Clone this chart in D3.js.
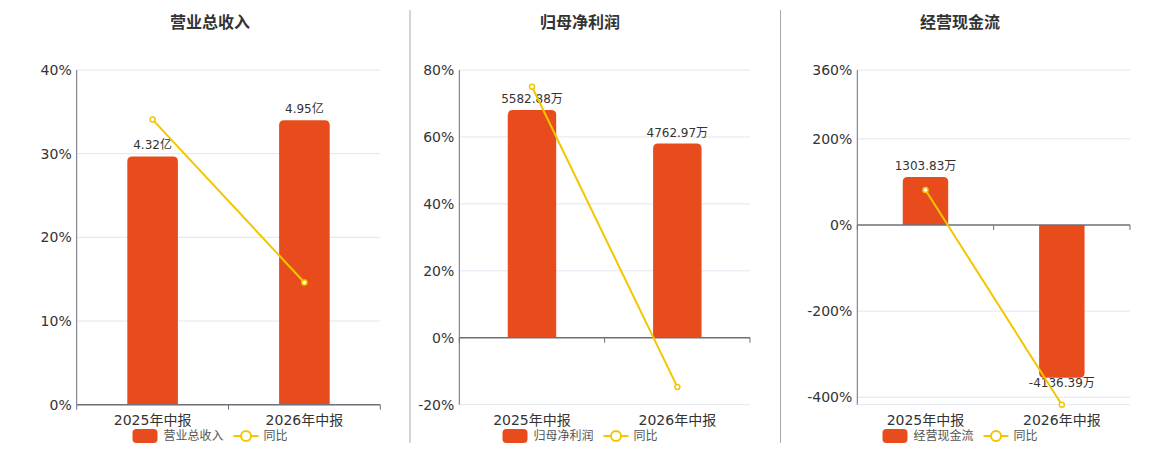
<!DOCTYPE html>
<html>
<head>
<meta charset="utf-8">
<script src="https://cdn.jsdelivr.net/npm/d3@7"></script>
<style>
  body { margin: 0; background: #fff; }
  svg { display: block; font-family: "DejaVu Sans", "Noto Sans CJK SC", sans-serif; }
</style>
</head>
<body>
<div id="viz"></div>
<script>
// data
var categories = ["2025年中报", "2026年中报"];

var revenue = [4.32, 4.95];           // 亿
var revenueYoy = [34.07, 14.6];       // %
var profit = [5582.88, 4762.97];      // 万
var profitYoy = [75.0, -14.69];
var cash = [1303.83, -4136.39];       // 万
var cashYoy = [81.3, -417.25];

var titles = ["营业总收入", "归母净利润", "经营现金流"];
var yoyName = "同比";

var revenueTicks = [0, 10, 20, 30, 40];
var profitTicks = [-20, 0, 20, 40, 60, 80];
var cashTicks = [-400, -200, 0, 200, 360];

var barColor = "#e84c1d";
var lineColor = "#f3c600";
var gridColor = "#e0e6f1";
var axisColor = "#6e7079";

var svg = d3.select("#viz")
    .append("svg")
    .attr("width", 1160)
    .attr("height", 450);

var panels = [
    {title: titles[0], bars: revenue, yoy: revenueYoy, unit: "亿", ticks: revenueTicks,
     grid: [10, 20, 30, 40], pct: [0, 40], barDom: [0, 5.823],
     x0: 76.7, x1: 380.3, cx: 210},
    {title: titles[1], bars: profit, yoy: profitYoy, unit: "万", ticks: profitTicks,
     grid: [-20, 20, 40, 60, 80], pct: [-20, 80], barDom: [-1640, 6566],
     x0: 459.3, x1: 750, cx: 580},
    {title: titles[2], bars: cash, yoy: cashYoy, unit: "万", ticks: cashTicks,
     grid: [-417.25, -400, -200, 200, 360], pct: [-417.25, 360], barDom: [-4864, 4200],
     x0: 857.3, x1: 1130, cx: 960}
];

var plotTop = 70, plotBottom = 404.7;

// separators
[410, 780.5].forEach(function (x) {
    svg.append("line")
        .attr("x1", x).attr("x2", x)
        .attr("y1", 10).attr("y2", 443)
        .attr("stroke", "#aaa")
        .attr("stroke-width", 1);
});

function barPath(x, w, y0, y1, r) {
    // rounded corners on the far end of the bar
    var h = Math.abs(y1 - y0);
    r = Math.min(r, h, w / 2);
    if (y1 < y0) {
        return "M" + x + "," + y0 + "V" + (y1 + r) +
            "Q" + x + "," + y1 + " " + (x + r) + "," + y1 +
            "H" + (x + w - r) +
            "Q" + (x + w) + "," + y1 + " " + (x + w) + "," + (y1 + r) +
            "V" + y0 + "Z";
    }
    return "M" + x + "," + y0 + "V" + (y1 - r) +
        "Q" + x + "," + y1 + " " + (x + r) + "," + y1 +
        "H" + (x + w - r) +
        "Q" + (x + w) + "," + y1 + " " + (x + w) + "," + (y1 - r) +
        "V" + y0 + "Z";
}

panels.forEach(function (p) {
    var g = svg.append("g");

    var x = d3.scaleBand().domain(categories).range([p.x0, p.x1]).padding(0);
    var y = d3.scaleLinear().domain(p.pct).range([plotBottom, plotTop]);
    var yb = d3.scaleLinear().domain(p.barDom).range([plotBottom, plotTop]);
    var bw = x.bandwidth() / 3;

    g.append("text")
        .attr("x", p.cx).attr("y", 28)
        .attr("text-anchor", "middle")
        .attr("font-size", 16).attr("font-weight", "bold")
        .attr("fill", "#333")
        .text(p.title);

    // grid
    g.selectAll(".grid")
        .data(p.grid)
        .enter().append("line")
        .attr("x1", p.x0).attr("x2", p.x1)
        .attr("y1", function (d) { return y(d); })
        .attr("y2", function (d) { return y(d); })
        .attr("stroke", gridColor);

    // y axis labels
    g.selectAll(".ylab")
        .data(p.ticks)
        .enter().append("text")
        .attr("x", p.x0 - 5)
        .attr("y", function (d) { return y(d); })
        .attr("dy", "0.36em")
        .attr("text-anchor", "end")
        .attr("font-size", 14)
        .attr("fill", "#333")
        .text(function (d) { return d + "%"; });

    g.append("line")
        .attr("x1", p.x0).attr("x2", p.x0)
        .attr("y1", plotTop).attr("y2", plotBottom)
        .attr("stroke", axisColor);

    // bars
    var zero = yb(0);
    g.selectAll(".bar")
        .data(p.bars)
        .enter().append("path")
        .attr("d", function (d, i) {
            var cx = x(categories[i]) + x.bandwidth() / 2;
            return barPath(cx - bw / 2, bw, zero, yb(d), 5);
        })
        .attr("fill", barColor);

    // x axis at zero
    var y0 = y(0);
    g.append("line")
        .attr("x1", p.x0).attr("x2", p.x1)
        .attr("y1", y0).attr("y2", y0)
        .attr("stroke", axisColor).attr("stroke-width", 1.5);
    g.selectAll(".tick")
        .data([p.x0, p.x0 + x.step(), p.x1])
        .enter().append("line")
        .attr("x1", function (d) { return d; })
        .attr("x2", function (d) { return d; })
        .attr("y1", y0).attr("y2", y0 + 5)
        .attr("stroke", axisColor);

    g.selectAll(".xlab")
        .data(categories)
        .enter().append("text")
        .attr("x", function (d) { return x(d) + x.bandwidth() / 2; })
        .attr("y", 425)
        .attr("text-anchor", "middle")
        .attr("font-size", 14)
        .attr("fill", "#333")
        .text(function (d) { return d; });

    // bar labels
    g.selectAll(".blab")
        .data(p.bars)
        .enter().append("text")
        .attr("x", function (d, i) { return x(categories[i]) + x.bandwidth() / 2; })
        .attr("y", function (d) { return d >= 0 ? yb(d) - 7 : yb(d) + 9; })
        .attr("text-anchor", "middle")
        .attr("font-size", 12)
        .attr("fill", "#333")
        .text(function (d) { return d + p.unit; });

    // yoy line
    var line = d3.line()
        .x(function (d, i) { return x(categories[i]) + x.bandwidth() / 2; })
        .y(function (d) { return y(d); });
    g.append("path")
        .attr("d", line(p.yoy))
        .attr("fill", "none")
        .attr("stroke", lineColor)
        .attr("stroke-width", 2);
    g.selectAll(".pt")
        .data(p.yoy)
        .enter().append("circle")
        .attr("cx", function (d, i) { return x(categories[i]) + x.bandwidth() / 2; })
        .attr("cy", function (d) { return y(d); })
        .attr("r", 2.5)
        .attr("fill", "#fff")
        .attr("stroke", lineColor)
        .attr("stroke-width", 1.5);

    // legend
    var lg = g.append("g").attr("transform", "translate(" + (p.cx - 77.5) + ",429)");
    lg.append("rect")
        .attr("width", 25).attr("height", 14).attr("rx", 4)
        .attr("fill", barColor);
    lg.append("text")
        .attr("x", 31).attr("y", 7).attr("dy", "0.36em")
        .attr("font-size", 12).attr("fill", "#555")
        .text(p.title);
    lg.append("line")
        .attr("x1", 101).attr("x2", 126)
        .attr("y1", 7).attr("y2", 7)
        .attr("stroke", lineColor).attr("stroke-width", 2);
    lg.append("circle")
        .attr("cx", 113.5).attr("cy", 7).attr("r", 5)
        .attr("fill", "#fff")
        .attr("stroke", lineColor).attr("stroke-width", 2);
    lg.append("text")
        .attr("x", 131).attr("y", 7).attr("dy", "0.36em")
        .attr("font-size", 12).attr("fill", "#555")
        .text(yoyName);
});
</script>
</body>
</html>
